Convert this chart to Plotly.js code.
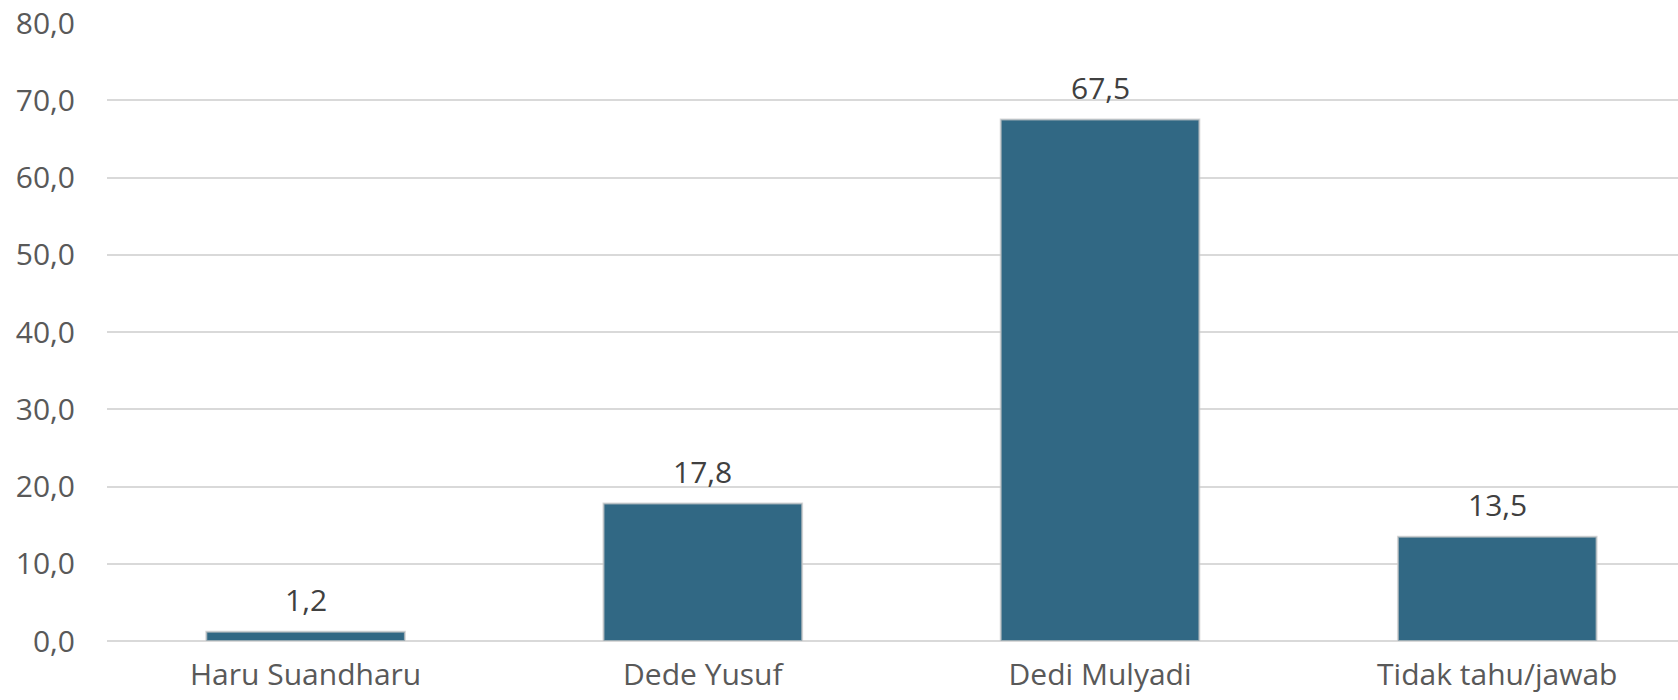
<!DOCTYPE html>
<html>
<head>
<meta charset="utf-8">
<script src="https://cdn.plot.ly/plotly-3.0.1.min.js"></script>
<style>
html,body{margin:0;padding:0;background:#fff;}
#chart{width:1678px;height:700px;}
</style>
</head>
<body>
<div id="chart"></div>
<script>
const categories = ["Haru Suandharu", "Dede Yusuf", "Dedi Mulyadi", "Tidak tahu/jawab"];
const values = [1.2, 17.8, 67.5, 13.5];
const yTickValues = [0, 10, 20, 30, 40, 50, 60, 70, 80];

const fontFamily = "'Open Sans', Lato, 'Noto Sans', sans-serif";

const trace = {
  type: "bar",
  x: categories,
  y: values,
  width: 0.5,
  marker: {
    color: "#316884",
    line: {color: "rgba(200,200,200,0.7)", width: 2}
  },
  hoverinfo: "skip"
};

const annotations = categories.map((c, i) => ({
  x: c,
  y: values[i],
  xref: "x",
  yref: "y",
  text: values[i].toFixed(1).replace(".", ","),
  showarrow: false,
  yanchor: "bottom",
  yshift: 10,
  font: {family: fontFamily, size: 30, color: "#404040"}
}));

const layout = {
  width: 1678,
  height: 700,
  separators: ",.",
  paper_bgcolor: "#ffffff",
  plot_bgcolor: "#ffffff",
  margin: {l: 107, r: 0, t: 23, b: 59},
  showlegend: false,
  xaxis: {
    type: "category",
    range: [-0.5, 3.455],
    showgrid: false,
    showline: false,
    zeroline: false,
    ticks: "",
    ticklabelstandoff: 13,
    tickfont: {family: fontFamily, size: 30, color: "#595959"},
    fixedrange: true
  },
  yaxis: {
    range: [0, 80],
    tickvals: yTickValues,
    tickformat: ".1f",
    showgrid: true,
    gridcolor: "#d9d9d9",
    gridwidth: 2,
    zeroline: true,
    zerolinecolor: "#d9d9d9",
    zerolinewidth: 2,
    showline: false,
    ticks: "",
    ticklabelstandoff: 31,
    tickfont: {family: fontFamily, size: 30, color: "#595959"},
    fixedrange: true
  },
  annotations: annotations
};

Plotly.newPlot("chart", [trace], layout, {displayModeBar: false, staticPlot: true});
</script>
</body>
</html>
